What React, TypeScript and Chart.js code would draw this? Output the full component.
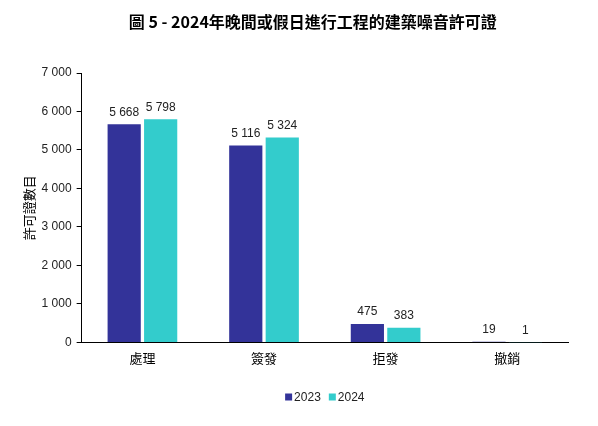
import React, { useEffect, useRef } from "react";
import { Chart, registerables } from "chart.js";

Chart.register(...registerables);

const titleText = "圖 5 - 2024年晚間或假日進行工程的建築噪音許可證";
const yAxisTitle = "許可證數目";
const categories = ["處理", "簽發", "拒發", "撤銷"];
const seriesNames = ["2023", "2024"];
const values2023 = [5668, 5116, 475, 19];
const values2024 = [5798, 5324, 383, 1];
const colors = ["#333399", "#33CCCC"];
const yMax = 7000;
const yStep = 1000;

const fmt = (v: number) => String(v).replace(/\B(?=(\d{3})+(?!\d))/g, " ");
const latinFont = "Arial, 'Liberation Sans', sans-serif";
const cjkFont = "'Noto Sans CJK TC', sans-serif";

const dataLabelPlugin = {
  id: "dataLabels",
  afterDatasetsDraw(chart: any) {
    const ctx = chart.ctx;
    ctx.save();
    ctx.font = `12px ${latinFont}`;
    ctx.fillStyle = "#222";
    ctx.textAlign = "center";
    ctx.textBaseline = "bottom";
    chart.data.datasets.forEach((ds: any, i: number) => {
      const meta = chart.getDatasetMeta(i);
      meta.data.forEach((bar: any, j: number) => {
        ctx.fillText(fmt(ds.data[j]), bar.x, bar.y - 6);
      });
    });
    ctx.restore();
  },
};

const titleLegendPlugin = {
  id: "titleLegend",
  afterDraw(chart: any) {
    const ctx = chart.ctx;
    const area = chart.chartArea;
    ctx.save();
    // title
    ctx.font = `bold 16px ${cjkFont}`;
    ctx.fillStyle = "#000";
    ctx.textAlign = "center";
    ctx.textBaseline = "middle";
    ctx.fillText(titleText, (area.left + area.right) / 2 - 12, 22);
    // legend
    ctx.font = `12px ${latinFont}`;
    ctx.textAlign = "left";
    const box = 7;
    const gapText = 2;
    const gapItem = 8;
    const items = chart.data.datasets.map((ds: any) => ({
      label: ds.label,
      color: ds.backgroundColor,
      w: box + gapText + ctx.measureText(ds.label).width,
    }));
    const total = items.reduce((s: number, it: any) => s + it.w, 0) + gapItem * (items.length - 1);
    let x = (area.left + area.right) / 2 - total / 2;
    const y = 397;
    items.forEach((it: any) => {
      ctx.fillStyle = it.color;
      ctx.fillRect(x, y - box / 2, box, box);
      ctx.fillStyle = "#222";
      ctx.fillText(it.label, x + box + gapText, y + 0.5);
      x += it.w + gapItem;
    });
    ctx.restore();
  },
};

export default function App() {
  const ref = useRef<HTMLCanvasElement>(null);
  useEffect(() => {
    if (!ref.current) return;
    const chart = new Chart(ref.current, {
      type: "bar",
      data: {
        labels: categories,
        datasets: [
          { label: seriesNames[0], data: values2023, backgroundColor: colors[0] },
          { label: seriesNames[1], data: values2024, backgroundColor: colors[1] },
        ],
      },
      options: {
        animation: false,
        responsive: false,
        maintainAspectRatio: false,
        layout: { padding: { left: 21, right: 30, top: 73, bottom: 60 } },
        datasets: { bar: { categoryPercentage: 0.6, barPercentage: 0.91 } } as any,
        plugins: {
          title: { display: false },
          legend: { display: false },
          tooltip: { enabled: false },
        },
        scales: {
          x: {
            grid: { display: false },
            border: { color: "#000" },
            ticks: {
              color: "#000",
              padding: 0,
              font: { family: cjkFont, size: 13 },
            },
          },
          y: {
            min: 0,
            max: yMax,
            ticks: {
              stepSize: yStep,
              color: "#222",
              padding: 5,
              font: { family: latinFont, size: 12 },
              callback: (v: any) => fmt(Number(v)),
            },
            grid: { drawOnChartArea: false, drawTicks: true, tickLength: 5, color: "#000" },
            border: { color: "#000" },
            title: {
              display: true,
              text: yAxisTitle,
              color: "#000",
              font: { family: cjkFont, size: 13 },
              padding: { top: 0, bottom: 0 },
            },
          },
        },
      },
      plugins: [dataLabelPlugin, titleLegendPlugin],
    });
    return () => chart.destroy();
  }, []);
  return (
    <div style={{ position: "fixed", left: 0, top: 0, width: 598, height: 426, background: "#fff" }}>
      <canvas ref={ref} width={598} height={426} style={{ width: 598, height: 426 }} />
    </div>
  );
}
